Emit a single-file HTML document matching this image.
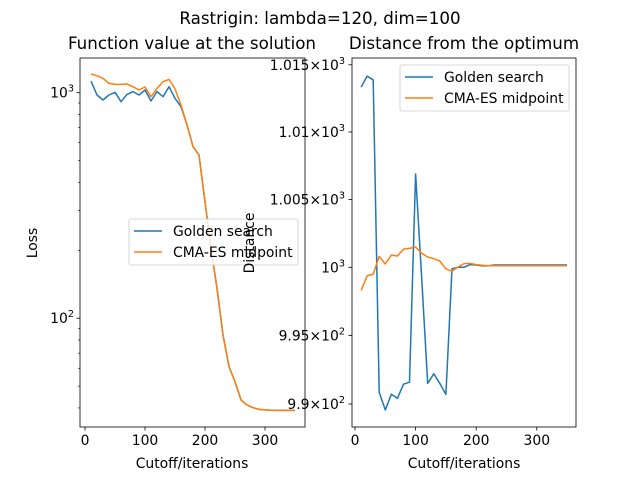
<!DOCTYPE html>
<html><head><meta charset="utf-8"><style>
body{margin:0;background:#fff}
svg{display:block;font-family:"DejaVu Sans","Liberation Sans",sans-serif}
</style></head><body>
<svg id="chart" width="640" height="480" viewBox="0 0 640 480">
<text x="320" y="24" font-size="16.7" text-anchor="middle">Rastrigin: lambda=120, dim=100</text>
<g id="left"></g>
<g id="right"></g>
</svg>
<script>
const xValues = [10,20,30,40,50,60,70,80,90,100,110,120,130,140,150,160,170,180,190,200,210,220,230,240,250,260,270,280,290,300,310,320,330,340,350];
const lossGolden = [1127,977,928,977,1004,912,983,1011,977,1028,919,1011,960,1063,944,867,719,576,529,329,204,135.6,84.2,61,52.3,43.4,41.2,40.1,39.4,39.2,39.1,39.0,39.0,39.0,39.0];
const lossCMA = [1210,1190,1158,1100,1089,1089,1093,1063,1028,1060,960,1045,1119,1146,1040,882,719,576,529,329,204,135.6,84.2,61,52.3,43.4,41.2,40.1,39.4,39.2,39.1,39.0,39.0,39.0,39.0];
const distGolden = [1013.34,1014.15,1013.88,990.85,989.56,990.71,990.41,991.44,991.59,1006.88,999.2,991.5,992.2,991.5,990.7,999.9,1000,1000,1000.2,1000.17,1000.1,1000.12,1000.17,1000.17,1000.17,1000.17,1000.17,1000.17,1000.17,1000.17,1000.17,1000.17,1000.17,1000.17,1000.17];
const distCMA = [998.3,999.37,999.5,1000.8,1000.24,1000.9,1000.83,1001.34,1001.39,1001.49,1001.02,1000.76,1000.63,1000.46,999.88,999.71,1000.02,1000.27,1000.29,1000.2,1000.15,1000.12,1000.12,1000.12,1000.12,1000.12,1000.12,1000.12,1000.12,1000.12,1000.12,1000.12,1000.12,1000.12,1000.12];
const xTicks = [0,100,200,300];
const rightTicks = [990,995,1000,1005,1010,1015];
const rightTickLabels = ["9.9","9.95","","1.005","1.01","1.015"];

const NS="http://www.w3.org/2000/svg";
function mk(p,t,a){const e=document.createElementNS(NS,t);for(const k in a)e.setAttribute(k,a[k]);p.appendChild(e);return e;}
const L=document.getElementById('left'), R=document.getElementById('right');

const lx0=80,lx1=305,axTop=58,axBot=427;
const lX=v=>85+v*0.6;
const lY=v=>92.7-(Math.log10(v)-3)*225.5;
const rx0=352,rx1=576;
const rX=v=>355+v*0.606;
const rY=v=>267.3-Math.log10(v/1000)*31318;

function axesFrame(g,x0,x1){const r=mk(g,'rect',{x:x0,y:axTop,width:x1-x0,height:axBot-axTop,fill:'none',stroke:'#000','stroke-width':0.8});

}
function xAxis(g,X,name){xTicks.forEach(t=>{const x=X(t);mk(g,'line',{x1:x,x2:x,y1:axBot,y2:axBot+3.5,stroke:'#000','stroke-width':0.8});
const tx=mk(g,'text',{x:x,y:axBot+18,'font-size':13.9,'text-anchor':'middle'});tx.textContent=t;

});}
function line(g,X,Y,xs,ys,c,name){const d=xs.map((x,i)=>(i?'L':'M')+X(x).toFixed(1)+','+Y(ys[i]).toFixed(1)).join('');
const p=mk(g,'path',{d:d,fill:'none',stroke:c,'stroke-width':1.5,'stroke-linejoin':'round'});

}
function legend(g,x,y,name){const b=mk(g,'rect',{x:x,y:y,width:169,height:46,rx:2,fill:'#fff','fill-opacity':0.8,stroke:'#ccc','stroke-width':0.8});


[['Golden search','#1f77b4'],['CMA-ES midpoint','#ff7f0e']].forEach((e,i)=>{const yy=y+12+i*21;
mk(g,'line',{x1:x+5,x2:x+33,y1:yy,y2:yy,stroke:e[1],'stroke-width':1.5});
const t=mk(g,'text',{x:x+44,y:yy+5,'font-size':13.9});t.textContent=e[0];

});}

// LEFT
mk(L,'rect',{x:lx0,y:axTop,width:lx1-lx0,height:axBot-axTop,fill:'#fff'});
line(L,lX,lY,xValues,lossGolden,'#1f77b4','loss-golden-line');
line(L,lX,lY,xValues,lossCMA,'#ff7f0e','loss-cma-line');
axesFrame(L,lx0,lx1);xAxis(L,lX,'left');
[[20,90],[100,1000]].forEach(([a,b])=>{for(let v=a;v<=b;v+=a<100?10:100){const y=lY(v);if(y<axTop||y>axBot)continue;
const major=(v===100||v===1000);mk(L,'line',{x1:lx0,x2:lx0-(major?3.5:2),y1:y,y2:y,stroke:'#000','stroke-width':major?0.8:0.6});}});
[[1000,'3'],[100,'2']].forEach(([v,e])=>{const t=mk(L,'text',{x:lx0-6,y:lY(v)+5,'font-size':13.9,'text-anchor':'end'});
t.appendChild(document.createTextNode('10'));
const s=mk(t,'tspan',{dy:-6,'font-size':9.7});s.textContent=e;

});
legend(L,129,219,'left-legend');
let t=mk(L,'text',{x:192,y:49,'font-size':16.7,'text-anchor':'middle'});t.textContent='Function value at the solution';

t=mk(L,'text',{x:192,y:468,'font-size':13.9,'text-anchor':'middle'});t.textContent='Cutoff/iterations';

t=mk(L,'text',{x:0,y:0,'font-size':13.9,'text-anchor':'middle',transform:'translate(37,243) rotate(-90)'});t.textContent='Loss';


// RIGHT
mk(R,'rect',{x:rx0,y:axTop,width:rx1-rx0,height:axBot-axTop,fill:'#fff'});
line(R,rX,rY,xValues,distGolden,'#1f77b4','distance-golden-line');
line(R,rX,rY,xValues,distCMA,'#ff7f0e','distance-cma-line');
axesFrame(R,rx0,rx1);xAxis(R,rX,'right');
rightTicks.forEach((v,i)=>{const y=rY(v);mk(R,'line',{x1:rx0,x2:rx0-3.5,y1:y,y2:y,stroke:'#000','stroke-width':0.8});
const tx=mk(R,'text',{x:rx0-7,y:y+5,'font-size':13.9,'text-anchor':'end'});
tx.appendChild(document.createTextNode(rightTickLabels[i]?rightTickLabels[i]+'\u00d710':'10'));
const s=mk(tx,'tspan',{dy:-6,'font-size':9.7});s.textContent=(v<1000?'2':'3');

});
legend(R,400,65,'right-legend');
t=mk(R,'text',{x:464,y:49,'font-size':16.7,'text-anchor':'middle'});t.textContent='Distance from the optimum';

t=mk(R,'text',{x:464,y:468,'font-size':13.9,'text-anchor':'middle'});t.textContent='Cutoff/iterations';

t=mk(R,'text',{x:0,y:0,'font-size':13.9,'text-anchor':'middle',transform:'translate(254,243) rotate(-90)'});t.textContent='Distance';

</script>
</body></html>
